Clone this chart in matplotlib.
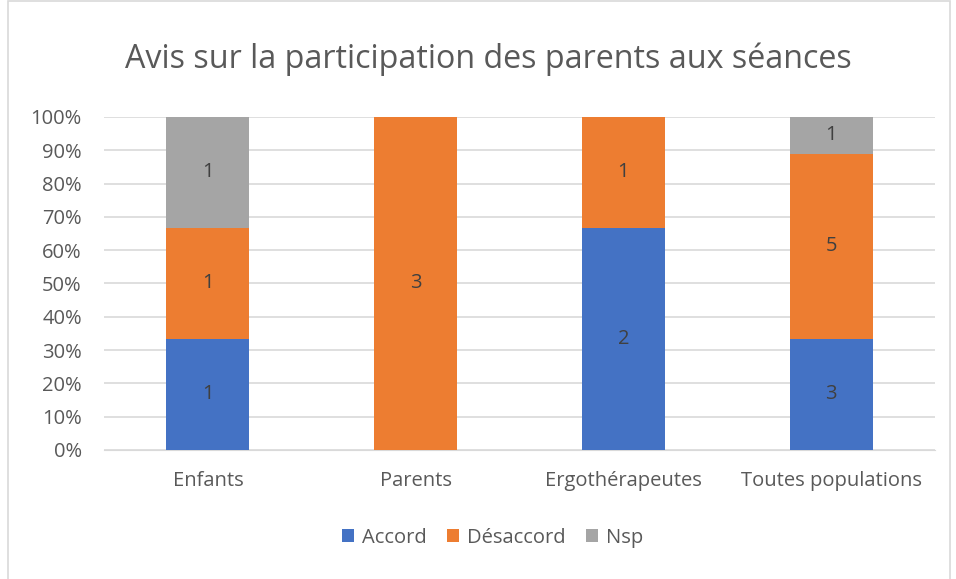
import numpy as np
import matplotlib.pyplot as plt
from matplotlib.patches import Rectangle

categories = ['Enfants', 'Parents', 'Ergothérapeutes', 'Toutes populations']
accord = [1, 0, 2, 3]
desaccord = [1, 3, 1, 5]
nsp = [1, 0, 0, 1]
series_names = ['Accord', 'Désaccord', 'Nsp']
colors = ['#4472C4', '#ED7D31', '#A5A5A5']

plt.rcParams['font.family'] = ['Open Sans', 'DejaVu Sans']

fig = plt.figure(figsize=(9.56, 5.79), dpi=100)
ax = fig.add_axes([0.1088, 0.2228, 0.8692, 0.5752])

counts = np.array([accord, desaccord, nsp], dtype=float)
totals = counts.sum(axis=0)
shares = counts / totals

x = np.arange(len(categories))
bottom = np.zeros(len(categories))
for i, name in enumerate(series_names):
    ax.bar(x, shares[i], 0.4, bottom=bottom, color=colors[i], label=name, zorder=3)
    for j in range(len(categories)):
        if counts[i, j] > 0:
            ax.text(x[j], bottom[j] + shares[i, j] / 2, str(int(counts[i, j])),
                    ha='center', va='center', fontsize=14.5, color='#404040', zorder=4)
    bottom += shares[i]

ax.set_xlim(-0.5, len(categories) - 0.5)
ax.set_ylim(0, 1)
ax.set_yticks(np.arange(0, 1.01, 0.1))
ax.set_yticklabels([f'{int(round(v * 100))}%' for v in np.arange(0, 1.01, 0.1)])
ax.set_xticks(x)
ax.set_xticklabels(categories)
ax.tick_params(axis='both', length=0, labelsize=14.5, colors='#595959')
ax.tick_params(axis='y', pad=16)
ax.tick_params(axis='x', pad=15)
ax.yaxis.grid(True, color='#D9D9D9', linewidth=1.2, zorder=0)
for s in ['top', 'right', 'left']:
    ax.spines[s].set_visible(False)
ax.spines['bottom'].set_color('#D9D9D9')

fig.text(0.511, 0.898, 'Avis sur la participation des parents aux séances',
         ha='center', va='center', fontsize=23.2, color='#595959')

fig.legend(loc='center', bbox_to_anchor=(0.515, 0.071), ncol=3, frameon=False,
           fontsize=14.5, handlelength=0.6, handleheight=0.6, columnspacing=1.0,
           handletextpad=0.4, labelcolor='#595959')

fig.patches.append(Rectangle((0.0085, -0.01), 0.985, 1.008, transform=fig.transFigure,
                             fill=False, edgecolor='#D9D9D9', linewidth=1.2))

fig.savefig('out.png', dpi=100)
